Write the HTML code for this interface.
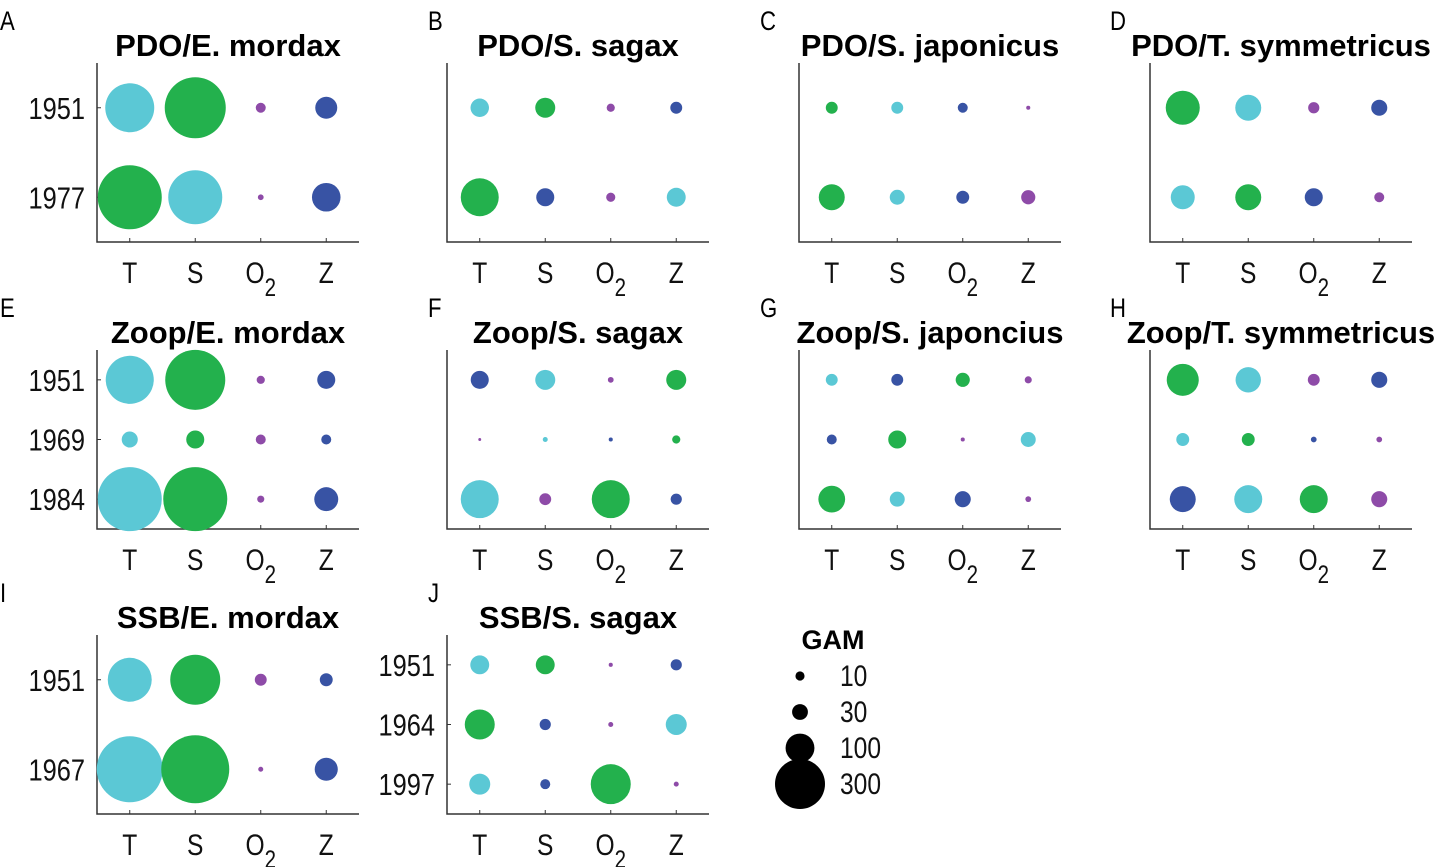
<!DOCTYPE html>
<html><head><meta charset="utf-8">
<style>
body{margin:0;background:#fff;}
svg{display:block;font-family:"Liberation Sans",Arial,sans-serif;}
</style></head>
<body>
<svg id="fig" width="1441" height="867" viewBox="0 0 1441 867"></svg>
<script>
const NS="http://www.w3.org/2000/svg";
const categories=["T","S","O2","Z"];
const colorMap={c:"#5BC8D5",g:"#23B14D",p:"#8E4BA8",b:"#3853A4"};
const legendValues=[10,30,100,300];
const titles=["PDO/E. mordax","PDO/S. sagax","PDO/S. japonicus","PDO/T. symmetricus","Zoop/E. mordax","Zoop/S. sagax","Zoop/S. japoncius","Zoop/T. symmetricus","SSB/E. mordax","SSB/S. sagax"];
const letters=["A","B","C","D","E","F","G","H","I","J"];
const yearsA=["1951","1977"];
const yearsE=["1951","1969","1984"];
const yearsI=["1951","1967"];
const yearsJ=["1951","1964","1997"];
const valA=[[288,447,12,58],[492,350,4,98]];
const colA=[["c","g","p","b"],["g","c","p","b"]];
const valB=[[41,48,8,17],[173,39,10,43]];
const colB=[["c","g","p","b"],["g","b","p","c"]];
const valC=[[17,17,12,2],[81,27,20,24]];
const colC=[["g","c","b","p"],["g","c","b","p"]];
const valD=[[139,81,15,31],[69,81,39,12]];
const colD=[["g","c","p","b"],["c","g","b","p"]];
const valE=[[277,432,8,39],[31,39,12,12],[492,492,6,69]];
const colE=[["c","g","p","b"],["c","g","p","b"],["c","g","p","b"]];
const valF=[[39,48,4,48],[1,3,2,8],[173,17,173,15]];
const colF=[["b","c","p","g"],["p","c","b","g"],["c","p","g","b"]];
const valG=[[17,17,24,6],[12,39,2,27],[86,27,31,4]];
const colG=[["c","b","g","p"],["b","g","p","c"],["g","c","b","p"]];
const valH=[[123,77,17,31],[20,20,4,4],[81,94,94,31]];
const colH=[["g","c","p","b"],["c","g","b","p"],["b","c","g","p"]];
const valI=[[232,300,17,20],[523,555,3,64]];
const colI=[["c","g","p","b"],["c","g","p","b"]];
const valJ=[[43,43,2,15],[108,15,3,53],[53,12,192,3]];
const colJ=[["c","g","p","b"],["g","b","p","c"],["c","b","g","p"]];

const svg=document.getElementById('fig');
function mk(tag,attrs,parent){const e=document.createElementNS(NS,tag);for(const k in attrs)e.setAttribute(k,attrs[k]);(parent||svg).appendChild(e);return e;}
function rScale(v){return 25*Math.sqrt(v/300);}

const colX=[97,447,799,1150];
const rowTop=[63,350,635];
const AXW=262, AXH=179;
const panels=[
 {v:valA,c:colA,y:yearsA,col:0,row:0,ylab:true},
 {v:valB,c:colB,y:yearsA,col:1,row:0,ylab:false},
 {v:valC,c:colC,y:yearsA,col:2,row:0,ylab:false},
 {v:valD,c:colD,y:yearsA,col:3,row:0,ylab:false},
 {v:valE,c:colE,y:yearsE,col:0,row:1,ylab:true},
 {v:valF,c:colF,y:yearsE,col:1,row:1,ylab:false},
 {v:valG,c:colG,y:yearsE,col:2,row:1,ylab:false},
 {v:valH,c:colH,y:yearsE,col:3,row:1,ylab:false},
 {v:valI,c:colI,y:yearsI,col:0,row:2,ylab:true},
 {v:valJ,c:colJ,y:yearsJ,col:1,row:2,ylab:true}
];
const letterX=[0,428,760,1110];
const SX=0.82;
panels.forEach((p,i)=>{
  const x0=colX[p.col], y0=rowTop[p.row];
  const g=mk('g',{});
  
  
  const xs=k=>x0+(k+0.5)*AXW/4;
  const n=p.y.length;
  const ys=j=>y0+(j+0.5)*AXH/n;
  const L=mk('text',{transform:`translate(${letterX[p.col]},${y0-33}) scale(${SX},1)`,'font-size':27,fill:'#000'},g);L.textContent=letters[i];
  
  const T=mk('text',{x:x0+AXW/2,y:y0-7,'font-size':31,'font-weight':'bold','text-anchor':'middle',fill:'#000'},g);T.textContent=titles[i];
  
  const ax=mk('path',{d:`M${x0} ${y0}V${y0+AXH}H${x0+AXW}`,fill:'none',stroke:'#333','stroke-width':1.5},g);
  
  categories.forEach((c,k)=>{
    mk('line',{x1:xs(k),x2:xs(k),y1:y0+AXH,y2:y0+AXH-4,stroke:'#333','stroke-width':1},g);
    const t=mk('text',{transform:`translate(${xs(k)},${y0+AXH+41}) scale(${SX},1)`,'font-size':30,'text-anchor':'middle',fill:'#111'},g);
    
    if(c==="O2"){t.textContent="O";const s=mk('tspan',{dy:13,'font-size':25},t);s.textContent="2";}
    else t.textContent=c;
  });
  p.y.forEach((yr,j)=>{
    if(p.ylab){
      mk('line',{x1:x0,x2:x0+4,y1:ys(j),y2:ys(j),stroke:'#333','stroke-width':1},g);
      const t=mk('text',{transform:`translate(${x0-12},${ys(j)+11}) scale(${SX},1)`,'font-size':31,'text-anchor':'end',fill:'#111'},g);t.textContent=yr;
      
    }
    p.v[j].forEach((val,k)=>{
      const ci=mk('circle',{cx:xs(k),cy:ys(j),r:rScale(val),fill:colorMap[p.c[j][k]]},g);
      
      
    });
  });
});
const lg=mk('g',{});


const lt=mk('text',{x:833,y:649,'font-size':27,'font-weight':'bold','text-anchor':'middle',fill:'#000'},lg);lt.textContent="GAM";

legendValues.forEach((v,i)=>{
  const cy=676+i*36;
  const c=mk('circle',{cx:800,cy:cy,r:rScale(v),fill:'#000'},lg);
  
  const t=mk('text',{transform:`translate(840,${cy+10}) scale(${SX},1)`,'font-size':30,fill:'#111'},lg);t.textContent=v;
  
});
</script>
</body></html>
